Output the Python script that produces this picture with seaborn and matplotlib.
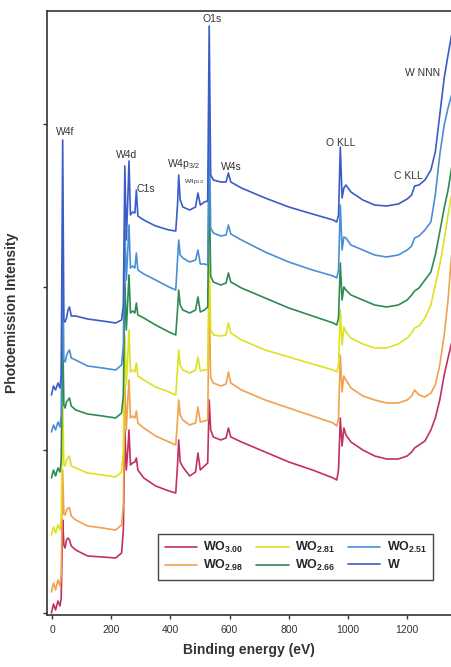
import numpy as np
import pandas as pd
import matplotlib
matplotlib.use('Agg')
import matplotlib.pyplot as plt
import seaborn as sns

# Energia de ligacao (eV) - grade comum a todos os espectros
energia = [-2, 5, 12, 20, 27, 31, 36, 40, 44, 49, 54, 59, 65, 80, 120, 170, 215, 235, 241, 246,
           251, 256, 260, 265, 272, 280, 285, 290, 310, 350, 395, 418, 424, 428, 433, 442, 465, 485, 493, 501,
           515, 526, 531, 536, 545, 570, 588, 596, 604, 640, 720, 800, 880, 950, 962, 968, 974, 980, 986, 993,
           1010, 1050, 1090, 1130, 1170, 1200, 1215, 1225, 1240, 1260, 1280, 1295, 1310, 1325, 1338, 1350]

# Intensidade de fotoemissao (u.a.), curvas deslocadas
wo300 = [0, 9, 3, 12, 7, 15, 93, 68, 65, 73, 75, 73, 67, 63, 57, 56, 55, 60, 83, 183,
         143, 163, 183, 148, 150, 151, 155, 143, 135, 127, 122, 120, 148, 173, 151, 146, 137, 141, 160, 143,
         147, 150, 213, 183, 176, 173, 175, 185, 176, 171, 161, 151, 143, 135, 133, 143, 195, 167, 185, 178,
         171, 163, 157, 154, 154, 157, 161, 165, 168, 172, 183, 195, 213, 238, 255, 270]
wo298 = [21, 30, 23, 33, 27, 38, 143, 99, 98, 103, 105, 105, 97, 93, 87, 85, 83, 88, 108, 228,
         183, 213, 233, 195, 197, 195, 202, 190, 185, 177, 171, 168, 193, 213, 198, 193, 188, 190, 206, 191,
         192, 193, 313, 235, 230, 227, 229, 241, 230, 223, 213, 205, 197, 190, 187, 195, 258, 221, 237, 233,
         225, 217, 213, 210, 210, 213, 217, 223, 218, 216, 220, 228, 248, 278, 313, 358]
wo281 = [78, 86, 80, 88, 83, 95, 213, 148, 147, 153, 155, 157, 147, 145, 140, 138, 136, 141, 163, 278,
         228, 258, 283, 241, 243, 241, 250, 237, 233, 226, 221, 218, 243, 263, 248, 243, 240, 243, 256, 242,
         243, 243, 363, 283, 278, 277, 278, 290, 280, 273, 263, 256, 249, 243, 241, 248, 303, 268, 286, 281,
         275, 269, 265, 265, 269, 275, 280, 285, 287, 295, 308, 328, 348, 373, 398, 418]
wo266 = [135, 143, 137, 145, 141, 153, 283, 208, 205, 211, 213, 215, 207, 203, 199, 197, 195, 200, 218, 333,
         283, 313, 338, 300, 302, 300, 310, 298, 295, 288, 281, 278, 303, 323, 308, 303, 300, 303, 316, 301,
         303, 306, 433, 337, 331, 328, 330, 340, 331, 325, 315, 305, 297, 290, 288, 295, 350, 313, 326, 323,
         318, 313, 308, 306, 308, 313, 318, 322, 325, 333, 341, 358, 381, 405, 423, 445]
wo251 = [181, 188, 183, 191, 186, 198, 363, 253, 251, 257, 261, 263, 255, 253, 247, 245, 243, 248, 268, 383,
         333, 363, 388, 345, 347, 345, 360, 343, 339, 333, 326, 323, 353, 373, 358, 355, 351, 353, 363, 349,
         349, 348, 493, 385, 380, 377, 378, 388, 379, 373, 361, 351, 343, 337, 335, 343, 408, 363, 376, 375,
         368, 363, 358, 356, 358, 363, 367, 375, 377, 383, 391, 418, 458, 488, 505, 518]
w_metal = [218, 227, 223, 230, 225, 238, 473, 293, 291, 295, 303, 306, 297, 297, 294, 292, 290, 293, 308, 447,
           373, 413, 452, 398, 401, 400, 423, 397, 393, 387, 383, 382, 408, 438, 413, 406, 403, 406, 420, 408,
           411, 412, 587, 438, 433, 431, 431, 440, 431, 425, 415, 406, 399, 393, 391, 398, 466, 415, 425, 428,
           421, 413, 408, 407, 409, 414, 418, 427, 428, 433, 443, 461, 498, 535, 558, 578]

amostras = ['WO3.00', 'WO2.98', 'WO2.81', 'WO2.66', 'WO2.51', 'W']
rotulos = [r'$\mathbf{WO_{3.00}}$', r'$\mathbf{WO_{2.98}}$', r'$\mathbf{WO_{2.81}}$',
           r'$\mathbf{WO_{2.66}}$', r'$\mathbf{WO_{2.51}}$', r'$\mathbf{W}$']
cores = ['#c2315e', '#f0a24c', '#dde21f', '#2f8a52', '#4a8fd6', '#3a5cc9']

# Picos identificados (texto, energia, altura)
picos = ['W4f', 'W4d', 'C1s', r'W4p$_{3/2}$', 'O1s', 'W4s', 'O KLL', 'C KLL', 'W NNN']
picos_x = [44, 253, 318, 443, 541, 605, 976, 1203, 1253]
picos_y = [481, 458, 424, 449, 594, 446, 470, 437, 540]

# Monta a tabela longa para o seaborn
series = [wo300, wo298, wo281, wo266, wo251, w_metal]
base = pd.concat([pd.DataFrame({'energia': energia, 'intensidade': s, 'amostra': a})
                  for s, a in zip(series, amostras)], ignore_index=True)

sns.set_style('ticks')
plt.rcParams['font.family'] = ['Liberation Sans', 'DejaVu Sans']
plt.rcParams['mathtext.fontset'] = 'custom'
plt.rcParams['mathtext.rm'] = 'Liberation Sans'
plt.rcParams['mathtext.it'] = 'Liberation Sans'
plt.rcParams['mathtext.bf'] = 'Liberation Sans:bold'

fig = plt.figure(figsize=(4.51, 6.67), dpi=100)
ax = fig.add_axes([0.1042, 0.078, 0.8958, 0.9055])

sns.lineplot(data=base, x='energia', y='intensidade', hue='amostra', hue_order=amostras,
             palette=dict(zip(amostras, cores)), estimator=None, linewidth=1.2, ax=ax)

ax.set_xlim(-17, 1348)
ax.set_ylim(-2, 602)
ax.set_xticks([0, 200, 400, 600, 800, 1000, 1200])
ax.set_yticks([0, 163, 326, 489])
ax.set_yticklabels([])
ax.tick_params(axis='both', length=3, width=1, color='#333333', labelsize=7.5, labelcolor='#333333', pad=4)
for lado in ['left', 'bottom', 'top']:
    ax.spines[lado].set_linewidth(1.2)
    ax.spines[lado].set_color('#333333')
ax.spines['right'].set_visible(False)

ax.set_xlabel('Binding energy (eV)', fontsize=10, fontweight='bold', color='#333333', labelpad=6)
ax.set_ylabel('Photoemission Intensity', fontsize=10, fontweight='bold', color='#333333')
ax.yaxis.set_label_coords(-0.07, 0.5)

for t, x, y in zip(picos, picos_x, picos_y):
    ax.text(x, y, t, fontsize=7.5, color='#333333', ha='center', va='center')
ax.text(480, 431, r'W4p$_{1/2}$', fontsize=4.5, color='#333333', ha='center', va='center')

handles, _ = ax.get_legend_handles_labels()
leg = ax.legend(handles, rotulos, ncol=3, loc='lower left', bbox_to_anchor=(0.26, 0.048),
                fontsize=9, handlelength=2.6, handletextpad=0.5, columnspacing=1.0,
                labelspacing=0.25, borderpad=0.5, fancybox=False, framealpha=1,
                edgecolor='#444444')
leg.get_frame().set_linewidth(1.0)

fig.savefig('out.png', dpi=100)
